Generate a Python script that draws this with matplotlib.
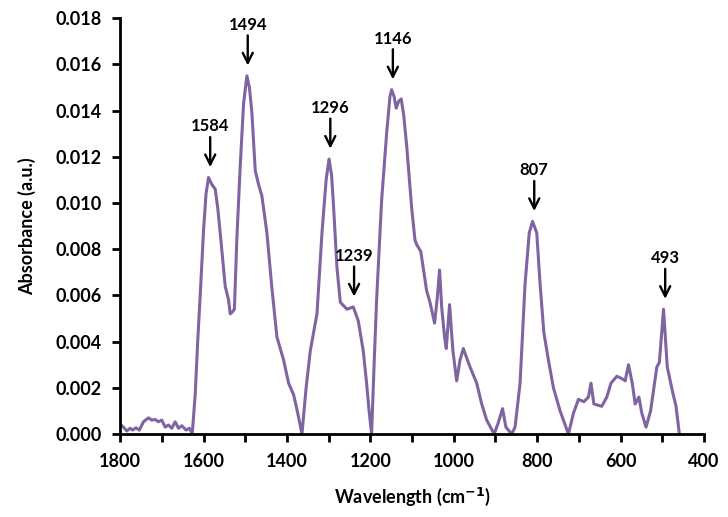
import numpy as np
import matplotlib
matplotlib.use('Agg')
import matplotlib.pyplot as plt

plt.rcParams['font.family'] = ['Lato', 'DejaVu Sans']
plt.rcParams['font.weight'] = 'bold'

# spectrum (wavenumber, absorbance)
wavenumber = [1800, 1792, 1784, 1776, 1770, 1762, 1754, 1744, 1732, 1724, 1716, 1708,
              1700, 1692, 1684, 1676, 1668, 1660, 1652, 1642, 1634, 1627, 1620, 1614,
              1608, 1600, 1594, 1588, 1580, 1572, 1566, 1560, 1548, 1540, 1536, 1530,
              1526, 1520, 1512, 1504, 1496, 1490, 1484, 1476, 1468, 1460, 1448, 1436,
              1424, 1408, 1396, 1384, 1374, 1364, 1354, 1344, 1328, 1316, 1306, 1299,
              1293, 1289, 1280, 1272, 1256, 1241, 1229, 1217, 1209, 1203, 1197, 1191,
              1185, 1173, 1161, 1153, 1149, 1143, 1138, 1132, 1126, 1120, 1113, 1101,
              1093, 1089, 1079, 1065, 1057, 1046, 1040, 1034, 1029, 1022, 1018, 1010,
              1002, 993, 985, 977, 961, 945, 933, 921, 903, 893, 883, 875,
              861, 853, 841, 829, 819, 811, 801, 793, 784, 773, 761, 745,
              725, 713, 701, 688, 677, 671, 664, 645, 633, 623, 609, 597,
              589, 581, 572, 565, 556, 549, 539, 528, 513, 507, 497, 488,
              475, 467, 459]
absorbance = [0.00042, 0.0003, 0.00013, 0.00025, 0.00017, 0.00027, 0.00017, 0.00053, 0.0007, 0.0006, 0.00063, 0.00053,
              0.0006, 0.0003, 0.00039, 0.00025, 0.00053, 0.00025, 0.00036, 0.00017, 0.00025, 0.00002, 0.0017, 0.0040,
              0.0060, 0.0088, 0.0104, 0.0111, 0.0108, 0.0106, 0.0098, 0.0087, 0.0064, 0.0058, 0.0052, 0.0053,
              0.0054, 0.0085, 0.0116, 0.0143, 0.0155, 0.0150, 0.0139, 0.0114, 0.0108, 0.0103, 0.0087, 0.0063,
              0.0042, 0.0032, 0.0022, 0.0017, 0.0009, 0.0, 0.0020, 0.0036, 0.0052, 0.0087, 0.0110, 0.0119,
              0.0112, 0.0101, 0.0072, 0.0057, 0.0054, 0.0055, 0.0049, 0.0036, 0.0022, 0.0010, 0.0, 0.0030,
              0.0058, 0.0101, 0.0130, 0.0146, 0.0149, 0.0146, 0.0141, 0.0144, 0.0145, 0.0138, 0.0125, 0.0098,
              0.0084, 0.0082, 0.0079, 0.0062, 0.0057, 0.0048, 0.0058, 0.0071, 0.0055, 0.0042, 0.0037, 0.0056,
              0.0036, 0.0023, 0.0032, 0.0037, 0.0029, 0.0022, 0.0013, 0.0006, 0.0, 0.0005, 0.0011, 0.0003,
              0.0, 0.0003, 0.0022, 0.0065, 0.0087, 0.0092, 0.0087, 0.0065, 0.0044, 0.0032, 0.0020, 0.0010,
              0.0, 0.0009, 0.0015, 0.0014, 0.0016, 0.0022, 0.0013, 0.0012, 0.0016, 0.0022, 0.0025, 0.0024,
              0.0023, 0.0030, 0.0022, 0.0013, 0.0016, 0.0009, 0.0003, 0.0010, 0.0029, 0.0031, 0.0054, 0.0029,
              0.0018, 0.0012, 0.0]

peaks = [1584, 1494, 1296, 1239, 1146, 807, 493]

x = np.array(wavenumber, dtype=float)
y = np.array(absorbance)

fig = plt.figure(figsize=(7.28, 5.17), dpi=100)
ax = fig.add_axes([0.165, 0.1605, 0.802, 0.8045])

ax.plot(x, y, color='#8064A2', lw=2.2, solid_joinstyle='round', solid_capstyle='round')

# arrows + labels above each marked band
for p in peaks:
    near = np.abs(x - p) <= 6
    tip = y[near].max() + 0.00045
    top = tip + 0.0013
    ax.annotate('', xy=(p, tip), xytext=(p, top),
                arrowprops=dict(arrowstyle='->', color='black', lw=1.7,
                                mutation_scale=18, shrinkA=0, shrinkB=0))
    ax.text(p, top + 0.00012, str(p), ha='center', va='bottom',
            fontsize=12, fontweight='bold')

ax.set_xlim(1800, 400)
ax.set_ylim(0, 0.018)
ax.set_xticks(np.arange(1800, 399, -200))
ax.set_xticks(np.arange(1700, 399, -200), minor=True)
ax.set_yticks(np.arange(0, 0.0181, 0.002))
ax.yaxis.set_major_formatter(matplotlib.ticker.FormatStrFormatter('%.3f'))

for s in ['top', 'right']:
    ax.spines[s].set_visible(False)
for s in ['left', 'bottom']:
    ax.spines[s].set_linewidth(2)

ax.tick_params(which='both', direction='out', length=6, width=2, labelsize=13)
ax.tick_params(axis='x', pad=8)
ax.tick_params(axis='y', pad=7)

ax.set_xlabel('Wavelength (cm$^{\\mathbf{-1}}$)', fontsize=13, fontweight='bold', labelpad=11)
ax.set_ylabel('Absorbance (a.u.)', fontsize=13, fontweight='bold', labelpad=14)

fig.savefig('out.png', dpi=100)
